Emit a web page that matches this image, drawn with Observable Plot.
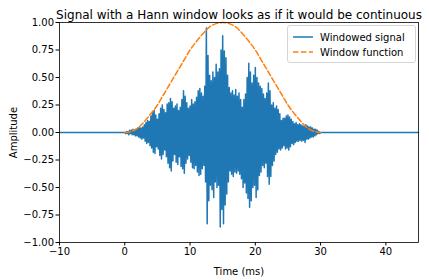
<!DOCTYPE html>
<html><head><meta charset="utf-8">
<script src="https://cdn.jsdelivr.net/npm/d3@7"></script>
<script src="https://cdn.jsdelivr.net/npm/@observablehq/plot@0.6"></script>
<style>
body{margin:0;background:#fff;font-family:"DejaVu Sans",sans-serif;}
#wrap{position:relative;width:429px;height:280px;}
#legend{position:absolute;left:287px;top:25px;width:127px;height:36px;border:1px solid #d5d5d5;border-radius:3px;background:rgba(255,255,255,0.8);font-size:10px;color:#000;}
.row{position:absolute;left:5px;height:12px;display:flex;align-items:center;}
.row svg{margin-right:7px;}
</style></head>
<body><div id="wrap"></div>
<script>
const titleText = "Signal with a Hann window looks as if it would be continuous";
const xLabel = "Time (ms)";
const yLabel = "Amplitude";
const seriesNames = ["Windowed signal", "Window function"];
const xTicks = [-10, 0, 10, 20, 30, 40];
const yTicks = [-1, -0.75, -0.5, -0.25, 0, 0.25, 0.5, 0.75, 1];

const signalStart = 0;
const signalStep = 0.125;
const signalValues = [
  0.00,-0.01,0.01,-0.01,0.01,-0.02,0.02,-0.01,
  0.02,-0.02,0.03,-0.02,0.02,-0.03,0.03,-0.03,
  0.04,-0.04,0.05,-0.05,0.04,-0.06,0.05,-0.05,
  0.07,-0.08,0.09,-0.10,0.11,-0.09,0.10,-0.12,
  0.15,-0.14,0.19,-0.18,0.20,-0.19,0.16,-0.13,
  0.12,-0.15,0.17,-0.21,0.22,-0.24,0.25,-0.20,
  0.21,-0.16,0.18,-0.22,0.26,-0.28,0.27,-0.32,
  0.31,-0.35,0.28,-0.26,0.22,-0.20,0.24,-0.27,
  0.26,-0.29,0.20,-0.22,0.23,-0.31,0.30,-0.33,
  0.38,-0.37,0.33,-0.28,0.27,-0.24,0.22,-0.21,
  0.24,-0.27,0.30,-0.32,0.26,-0.33,0.28,-0.30,
  0.32,-0.36,0.38,-0.39,0.40,-0.38,0.36,-0.33,
  0.33,-0.30,0.42,-0.45,0.95,-0.83,0.70,-0.62,
  0.52,-0.48,0.47,-0.52,0.55,-0.59,0.50,-0.45,
  0.62,-0.50,0.55,-0.48,0.58,-0.86,0.75,-0.70,
  0.88,-0.83,0.74,-0.66,0.68,-0.56,0.52,-0.45,
  0.41,-0.35,0.36,-0.38,0.38,-0.40,0.34,-0.36,
  0.39,-0.37,0.33,-0.35,0.36,-0.38,0.30,-0.42,
  0.23,-0.50,0.30,-0.46,0.35,-0.55,0.50,-0.60,
  0.63,-0.68,0.55,-0.62,0.45,-0.50,0.52,-0.48,
  0.59,-0.59,0.50,-0.52,0.45,-0.39,0.42,-0.36,
  0.40,-0.30,0.35,-0.32,0.31,-0.28,0.36,-0.40,
  0.45,-0.47,0.38,-0.40,0.25,-0.30,0.27,-0.26,
  0.22,-0.20,0.24,-0.18,0.21,-0.15,0.17,-0.16,
  0.11,-0.14,0.13,-0.12,0.13,-0.15,0.15,-0.14,
  0.16,-0.16,0.14,-0.13,0.12,-0.10,0.10,-0.11,
  0.08,-0.09,0.09,-0.08,0.07,-0.08,0.08,-0.07,
  0.07,-0.08,0.06,-0.07,0.06,-0.09,0.07,-0.06,
  0.06,-0.06,0.05,-0.05,0.05,-0.04,0.04,-0.04,
  0.03,-0.03,0.03,-0.02,0.02,-0.01,0.01,-0.01,
  0.00
];
const signalEdgeTimes = [-10, 45];

// window function, read every 1 ms from 0 to 30 ms
const windowTimes = [0,1,2,3,4,5,6,7,8,9,10,11,12,13,14,15,16,17,18,19,20,21,22,23,24,25,26,27,28,29,30];
const windowValues = [0,0.01,0.04,0.10,0.17,0.25,0.35,0.45,0.55,0.65,0.75,0.83,0.90,0.96,0.99,1.00,0.99,0.96,0.90,0.83,0.75,0.65,0.55,0.45,0.35,0.25,0.17,0.10,0.04,0.01,0];

const signalData = [{t: signalEdgeTimes[0], v: 0}]
  .concat(signalValues.map((v, i) => ({t: signalStart + i * signalStep, v})))
  .concat([{t: signalEdgeTimes[1], v: 0}]);
const windowData = windowTimes.map((t, i) => ({t, w: windowValues[i]}));

const blue = "#1f77b4", orange = "#ff7f0e";

const chart = Plot.plot({
  width: 429, height: 280,
  marginLeft: 59, marginRight: 11, marginTop: 22, marginBottom: 38,
  style: {fontFamily: "DejaVu Sans", fontSize: "10px", color: "black", background: "white", overflow: "visible"},
  x: {domain: [-10, 45]},
  y: {domain: [-1, 1]},
  marks: [
    Plot.line(signalData, {x: "t", y: "v", stroke: blue, strokeWidth: 1.5}),
    Plot.line(windowData, {x: "t", y: "w", stroke: orange, strokeWidth: 1.5, strokeDasharray: "5.5,2.4", curve: "catmull-rom"}),
    Plot.frame({stroke: "black", strokeWidth: 0.8}),
    Plot.axisX({ticks: xTicks, tickSize: 3.5, tickPadding: 2, tickFormat: d3.format("d"), label: xLabel, labelAnchor: "center", labelArrow: "none", labelOffset: 32}),
    Plot.axisY({ticks: yTicks, tickSize: 3.5, tickPadding: 2, tickFormat: d3.format(".2f"), label: yLabel, labelAnchor: "center", labelArrow: "none", labelOffset: 50}),
    Plot.text([titleText], {frameAnchor: "top", dy: -12, fontSize: 12, text: d => d})
  ]
});
document.getElementById("wrap").appendChild(chart);

const legend = document.createElement("div");
legend.id = "legend";
legend.innerHTML = `
<div class="row" style="top:5px"><svg width="20" height="4"><line x1="0" y1="2" x2="20" y2="2" stroke="${blue}" stroke-width="1.5"/></svg>${seriesNames[0]}</div>
<div class="row" style="top:20px"><svg width="20" height="4"><line x1="0" y1="2" x2="20" y2="2" stroke="${orange}" stroke-width="1.5" stroke-dasharray="5.5,2.4"/></svg>${seriesNames[1]}</div>`;
document.getElementById("wrap").appendChild(legend);
</script>
</body></html>
